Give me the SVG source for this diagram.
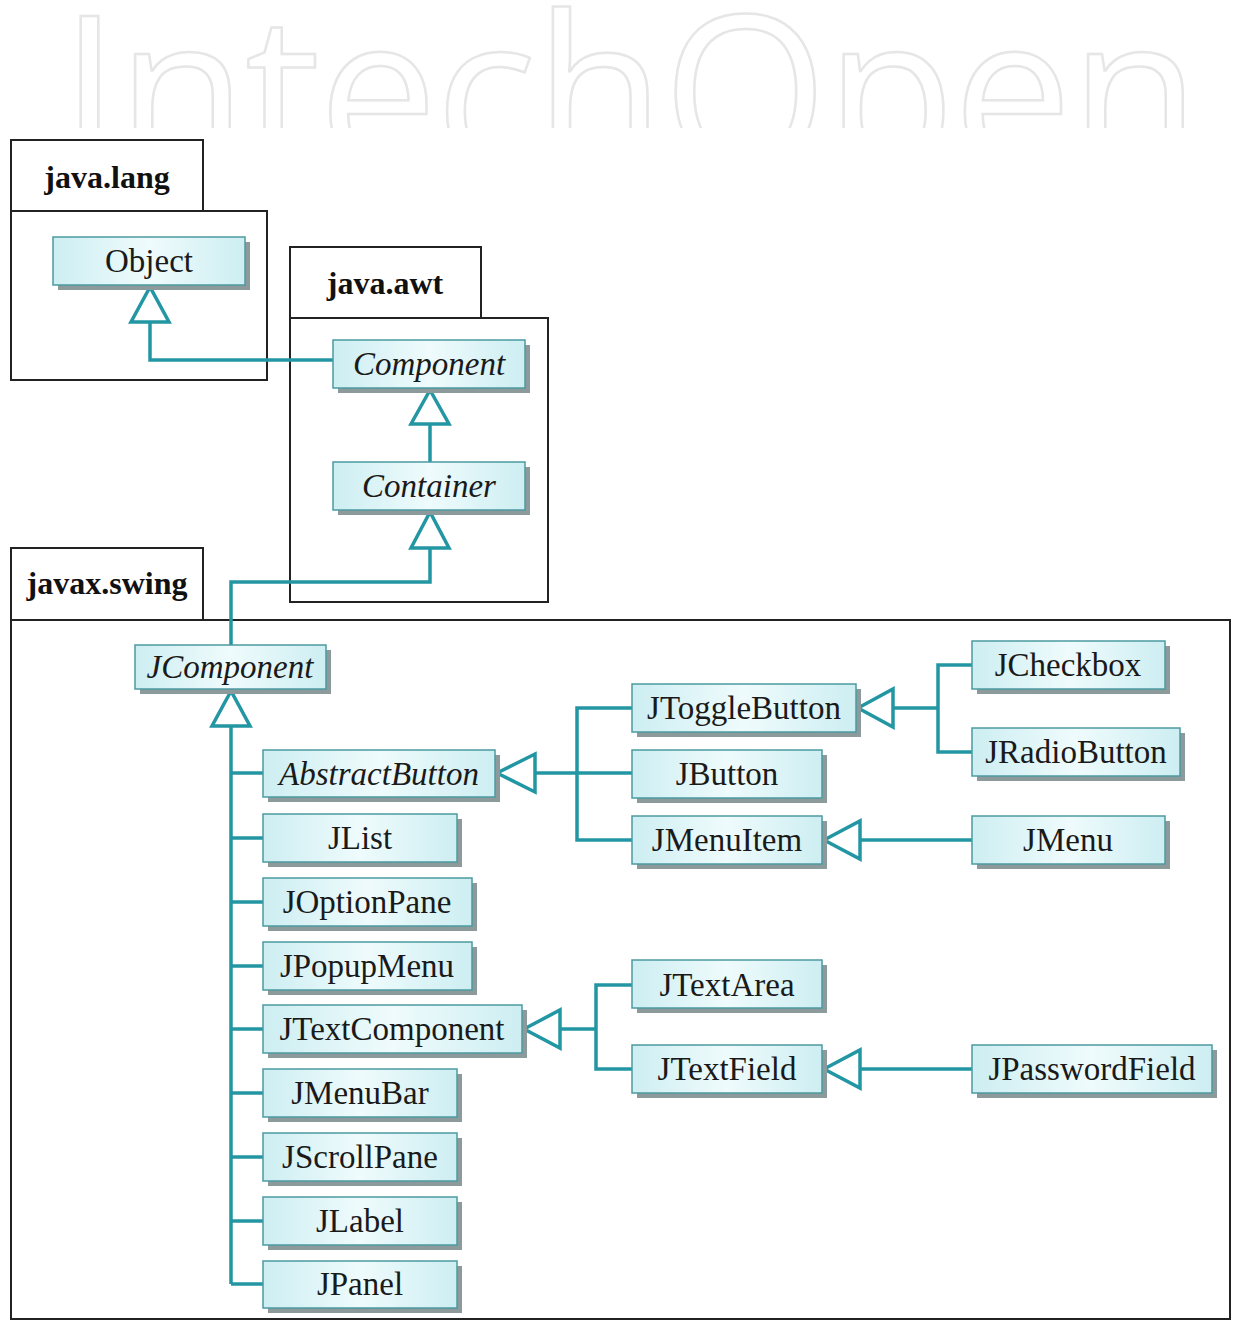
<svg xmlns="http://www.w3.org/2000/svg" width="1241" height="1323" viewBox="0 0 1241 1323">
<defs>
  <linearGradient id="g" x1="0" y1="0" x2="1" y2="0">
    <stop offset="0" stop-color="#cdeef2"/>
    <stop offset="0.5" stop-color="#effbfc"/>
    <stop offset="1" stop-color="#cdeef2"/>
  </linearGradient>
  <clipPath id="wm"><rect x="0" y="0" width="1241" height="128"/></clipPath>
</defs>
<style>
  .pkg{fill:#ffffff;stroke:#222;stroke-width:2}
  .pl{font-family:"Liberation Serif",serif;font-weight:bold;font-size:32px;fill:#111;text-anchor:middle}
  .sh{fill:#8c9a9b}
  .bx{fill:url(#g);stroke:#4b9aa0;stroke-width:1.5}
  .t{font-family:"Liberation Serif",serif;font-size:33px;fill:#1a1a1a;text-anchor:middle}
  .i{font-style:italic}
  .c{fill:none;stroke:#2396a3;stroke-width:3.5}
  .tri{fill:#ffffff;stroke:#2396a3;stroke-width:3.5;stroke-linejoin:miter}
  .wm{font-family:"Open Sans",sans-serif;font-size:212px;fill:#ffffff;stroke:#e6e6e6;stroke-width:2.5}
</style>
<rect width="1241" height="1323" fill="#ffffff"/>
<g id="watermark" clip-path="url(#wm)">
  <text class="wm" x="60" y="168" textLength="1140" lengthAdjust="spacing">IntechOpen</text>
</g>

<g id="pkg-java-lang">
  <rect class="pkg" x="11" y="140" width="192" height="71"/>
  <rect class="pkg" x="11" y="211" width="256" height="169"/>
  <text class="pl" x="107" y="188">java.lang</text>
</g>
<g id="pkg-java-awt">
  <rect class="pkg" x="290" y="247" width="191" height="71"/>
  <rect class="pkg" x="290" y="318" width="258" height="284"/>
  <text class="pl" x="385" y="294">java.awt</text>
</g>
<g id="pkg-javax-swing">
  <rect class="pkg" x="11" y="548" width="192" height="72"/>
  <rect class="pkg" x="11" y="620" width="1219" height="699"/>
  <text class="pl" x="107" y="594">javax.swing</text>
</g>

<g id="connectors">
  <path class="c" d="M150 322 V360 H333"/>
  <polygon class="tri" points="150,287 131,322 169,322"/>
  <path class="c" d="M430 424 V462"/>
  <polygon class="tri" points="430,390 411,424 449,424"/>
  <path class="c" d="M430 548 V582 H231 V645"/>
  <polygon class="tri" points="430,512 411,548 449,548"/>
  <path class="c" d="M231 726 V1284 M231 773 H263 M231 838 H263 M231 902 H263 M231 966 H263 M231 1029 H263 M231 1093 H263 M231 1157 H263 M231 1221 H263 M231 1284 H263"/>
  <polygon class="tri" points="231,691 212,726 250,726"/>
  <path class="c" d="M535 773 H632 M632 708 H577 V840 H632"/>
  <polygon class="tri" points="497,773 535,754 535,792"/>
  <path class="c" d="M893 708 H938 M972 665 H938 V752 H972"/>
  <polygon class="tri" points="858,708 893,689 893,727"/>
  <path class="c" d="M860 840 H972"/>
  <polygon class="tri" points="824,840 860,821 860,859"/>
  <path class="c" d="M560 1029 H596 M632 985 H596 V1069 H632"/>
  <polygon class="tri" points="524,1029 560,1010 560,1048"/>
  <path class="c" d="M860 1069 H972"/>
  <polygon class="tri" points="824,1069 860,1050 860,1088"/>
</g>

<g id="Object"><rect class="sh" x="58" y="242" width="192" height="48"/><rect class="bx" x="53" y="237" width="192" height="48"/><text class="t" x="149" y="272">Object</text></g>
<g id="Component"><rect class="sh" x="338" y="345" width="192" height="48"/><rect class="bx" x="333" y="340" width="192" height="48"/><text class="t i" x="429" y="375">Component</text></g>
<g id="Container"><rect class="sh" x="338" y="467" width="192" height="48"/><rect class="bx" x="333" y="462" width="192" height="48"/><text class="t i" x="429" y="497">Container</text></g>
<g id="JComponent"><rect class="sh" x="140" y="650" width="191" height="44"/><rect class="bx" x="135" y="645" width="191" height="44"/><text class="t i" x="230" y="678">JComponent</text></g>
<g id="AbstractButton"><rect class="sh" x="268" y="755" width="232" height="47"/><rect class="bx" x="263" y="750" width="232" height="47"/><text class="t i" x="379" y="785">AbstractButton</text></g>
<g id="JList"><rect class="sh" x="268" y="819" width="194" height="48"/><rect class="bx" x="263" y="814" width="194" height="48"/><text class="t" x="360" y="849">JList</text></g>
<g id="JOptionPane"><rect class="sh" x="268" y="883" width="209" height="48"/><rect class="bx" x="263" y="878" width="209" height="48"/><text class="t" x="367" y="913">JOptionPane</text></g>
<g id="JPopupMenu"><rect class="sh" x="268" y="947" width="209" height="48"/><rect class="bx" x="263" y="942" width="209" height="48"/><text class="t" x="367" y="977">JPopupMenu</text></g>
<g id="JTextComponent"><rect class="sh" x="268" y="1010" width="259" height="48"/><rect class="bx" x="263" y="1005" width="259" height="48"/><text class="t" x="392" y="1040">JTextComponent</text></g>
<g id="JMenuBar"><rect class="sh" x="268" y="1074" width="194" height="48"/><rect class="bx" x="263" y="1069" width="194" height="48"/><text class="t" x="360" y="1104">JMenuBar</text></g>
<g id="JScrollPane"><rect class="sh" x="268" y="1138" width="194" height="48"/><rect class="bx" x="263" y="1133" width="194" height="48"/><text class="t" x="360" y="1168">JScrollPane</text></g>
<g id="JLabel"><rect class="sh" x="268" y="1202" width="194" height="48"/><rect class="bx" x="263" y="1197" width="194" height="48"/><text class="t" x="360" y="1232">JLabel</text></g>
<g id="JPanel"><rect class="sh" x="268" y="1266" width="194" height="47"/><rect class="bx" x="263" y="1261" width="194" height="47"/><text class="t" x="360" y="1295">JPanel</text></g>
<g id="JToggleButton"><rect class="sh" x="637" y="689" width="224" height="48"/><rect class="bx" x="632" y="684" width="224" height="48"/><text class="t" x="744" y="719">JToggleButton</text></g>
<g id="JButton"><rect class="sh" x="637" y="755" width="190" height="48"/><rect class="bx" x="632" y="750" width="190" height="48"/><text class="t" x="727" y="785">JButton</text></g>
<g id="JMenuItem"><rect class="sh" x="637" y="821" width="190" height="48"/><rect class="bx" x="632" y="816" width="190" height="48"/><text class="t" x="727" y="851">JMenuItem</text></g>
<g id="JCheckbox"><rect class="sh" x="977" y="646" width="193" height="48"/><rect class="bx" x="972" y="641" width="193" height="48"/><text class="t" x="1068" y="676">JCheckbox</text></g>
<g id="JRadioButton"><rect class="sh" x="977" y="733" width="208" height="48"/><rect class="bx" x="972" y="728" width="208" height="48"/><text class="t" x="1076" y="763">JRadioButton</text></g>
<g id="JMenu"><rect class="sh" x="977" y="821" width="193" height="48"/><rect class="bx" x="972" y="816" width="193" height="48"/><text class="t" x="1068" y="851">JMenu</text></g>
<g id="JTextArea"><rect class="sh" x="637" y="965" width="190" height="48"/><rect class="bx" x="632" y="960" width="190" height="48"/><text class="t" x="727" y="996">JTextArea</text></g>
<g id="JTextField"><rect class="sh" x="637" y="1050" width="190" height="48"/><rect class="bx" x="632" y="1045" width="190" height="48"/><text class="t" x="727" y="1080">JTextField</text></g>
<g id="JPasswordField"><rect class="sh" x="977" y="1050" width="240" height="48"/><rect class="bx" x="972" y="1045" width="240" height="48"/><text class="t" x="1092" y="1080">JPasswordField</text></g>
</svg>
